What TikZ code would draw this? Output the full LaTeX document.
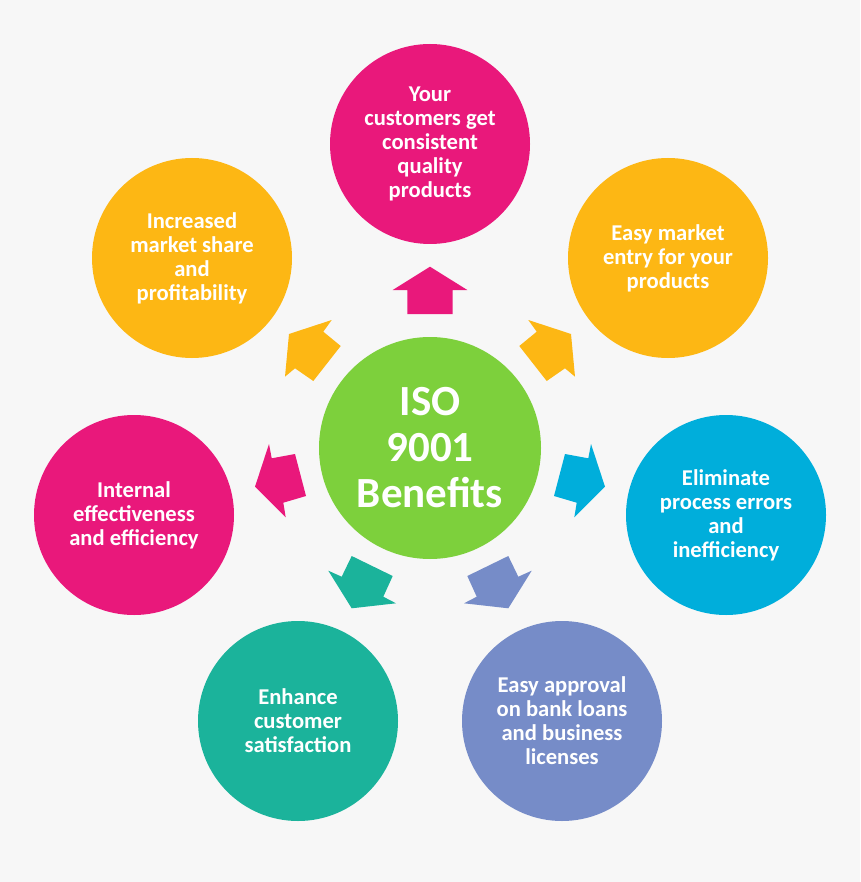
\documentclass[tikz,border=0pt]{standalone}
\usepackage{fontspec}
\setmainfont{Carlito}
\definecolor{bgc}{RGB}{247,247,247}
\definecolor{cpink}{RGB}{233,24,123}
\definecolor{corange}{RGB}{253,183,20}
\definecolor{cgreen}{RGB}{125,208,60}
\definecolor{ccyan}{RGB}{0,174,219}
\definecolor{cteal}{RGB}{27,179,155}
\definecolor{cblue}{RGB}{118,140,200}
\begin{document}
\begin{tikzpicture}[x=1pt,y=-1pt,
  benefit/.style={circle,minimum size=200pt,inner sep=0pt,align=center,text=white,
    font=\bfseries\fontsize{22.6}{24}\selectfont},
  hub/.style={circle,minimum size=222pt,inner sep=0pt,align=center,text=white,fill=cgreen,
    font=\bfseries\fontsize{43}{46}\selectfont}]
\useasboundingbox (0,0) rectangle (860,882);
\fill[bgc] (0,0) rectangle (860,882);
% arrows
\fill[cpink] (430,266.7) -- (467.3,290) -- (452.7,290) -- (452.7,314) -- (407.3,314) -- (407.3,290) -- (392.7,290) -- cycle;
\fill[corange] (289,334) -- (331.7,320) -- (323.3,331.7) -- (340.7,346) -- (313.3,381) -- (295,368.3) -- (285,376.7) -- cycle;
\fill[corange] (571,334) -- (528.3,320) -- (536.7,331.7) -- (519.3,346) -- (546.7,381) -- (565,368.3) -- (575,376.7) -- cycle;
\fill[cpink] (269,444) -- (271.7,458.3) -- (295,454) -- (306,496) -- (283.3,502.7) -- (285.7,517.3) -- (255,486.7) -- cycle;
\fill[ccyan] (591,444) -- (588.3,458.3) -- (565,454) -- (554,496) -- (576.7,502.7) -- (574.3,517.3) -- (605,486.7) -- cycle;
\fill[cteal] (328.3,570.7) -- (341.7,576.7) -- (351.7,556) -- (392.7,576) -- (383.3,596.7) -- (396,603.3) -- (351.7,608.3) -- cycle;
\fill[cblue] (531.7,570.7) -- (518.3,576.7) -- (508.3,556) -- (467.3,576) -- (476.7,596.7) -- (464,603.3) -- (508.3,608.3) -- cycle;
% circles
\node[hub] (hub) at (430,448) {ISO\\9001\\Benefits};
\node[benefit,fill=cpink] (top) at (430,144) {Your\\customers get\\consistent\\quality\\products};
\node[benefit,fill=corange] (tl) at (192,258) {Increased\\market share\\and\\profitability};
\node[benefit,fill=corange] (tr) at (668,258) {Easy market\\entry for your\\products};
\node[benefit,fill=cpink] (lf) at (134,515) {Internal\\effectiveness\\and efficiency};
\node[benefit,fill=ccyan] (rt) at (726,515) {Eliminate\\process errors\\and\\inefficiency};
\node[benefit,fill=cteal] (bl) at (298,721) {Enhance\\customer\\satisfaction};
\node[benefit,fill=cblue] (br) at (562,721) {Easy approval\\on bank loans\\and business\\licenses};
\end{tikzpicture}
\end{document}
